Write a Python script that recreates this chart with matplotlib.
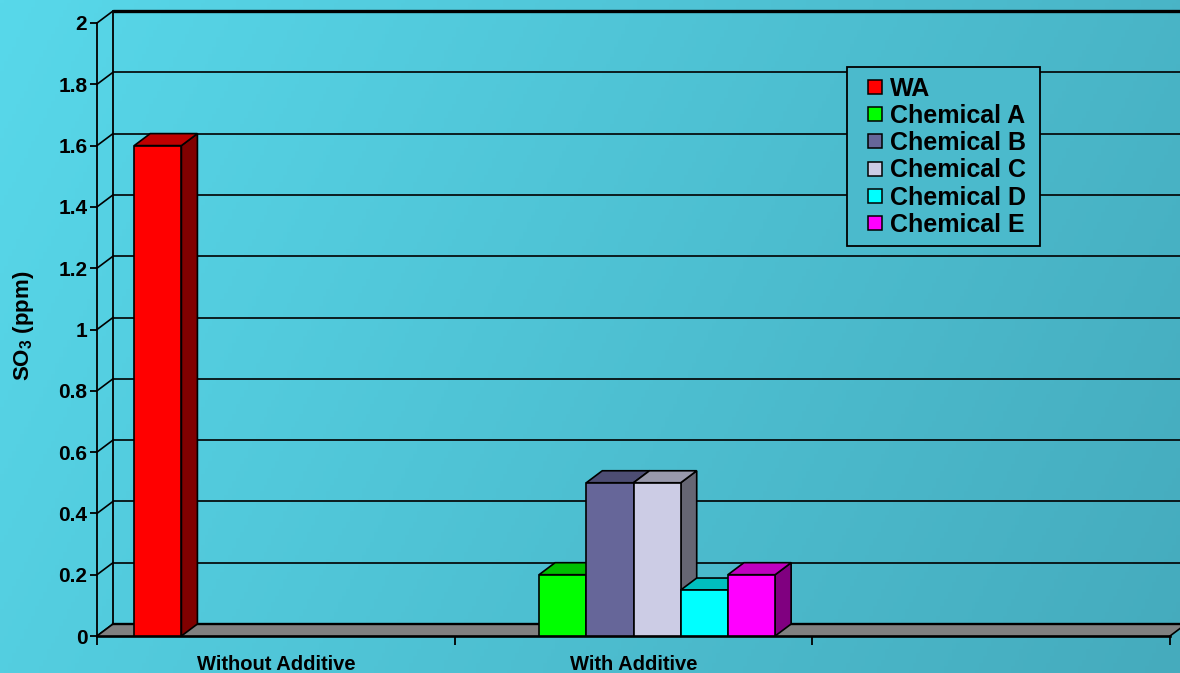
import numpy as np
import matplotlib
matplotlib.use("Agg")
import matplotlib.pyplot as plt
from matplotlib.patches import Polygon
from matplotlib.lines import Line2D
from matplotlib.colors import to_rgb

plt.rcParams['font.family'] = ['Liberation Sans', 'DejaVu Sans']
plt.rcParams['font.weight'] = 'bold'
plt.rcParams['mathtext.fontset'] = 'custom'
plt.rcParams['mathtext.rm'] = 'Liberation Sans:bold'
plt.rcParams['mathtext.default'] = 'rm'

nan = np.nan
categories = ['Without Additive', 'With Additive', '']
series_names = ['WA', 'Chemical A', 'Chemical B', 'Chemical C', 'Chemical D', 'Chemical E']
wa = [1.6, nan, nan]
chem_a = [nan, 0.2, nan]
chem_b = [nan, 0.5, nan]
chem_c = [nan, 0.5, nan]
chem_d = [nan, 0.15, nan]
chem_e = [nan, 0.2, nan]
series_values = [wa, chem_a, chem_b, chem_c, chem_d, chem_e]
colors = ['#FF0000', '#00FF00', '#666699', '#CCCCE5', '#00FFFF', '#FF00FF']
ytick_values = [0, 0.2, 0.4, 0.6, 0.8, 1.0, 1.2, 1.4, 1.6, 1.8, 2.0]
ytick_labels = ['0', '0.2', '0.4', '0.6', '0.8', '1', '1.2', '1.4', '1.6', '1.8', '2']
ylabel = 'SO$_3$ (ppm)'

W, H = 1180, 673
fig = plt.figure(figsize=(W / 100, H / 100), dpi=100)

# background gradient
TL = np.array([0x58, 0xD8, 0xEA]) / 255
BR = np.array([0x45, 0xAB, 0xBD]) / 255
def bg_color(xf, yf_top):
    s = np.clip(0.78 * np.asarray(xf) + 0.22 * np.asarray(yf_top), 0, 1)
    return TL + (BR - TL) * np.asarray(s)[..., None]
xs = np.linspace(0, 1, 300)
ys = np.linspace(0, 1, 200)
XX, YY = np.meshgrid(xs, ys)
img = bg_color(XX, YY)
bg = fig.add_axes([0, 0, 1, 1], zorder=-10)
bg.imshow(img, extent=[0, 1, 0, 1], aspect='auto', origin='upper')
bg.axis('off')

ax = fig.add_axes([97 / W, (H - 636) / H, 1073 / W, 613 / H])
ax.set_xlim(0, 3)
ax.set_ylim(0, 2)
ax.patch.set_visible(False)
for s in ['top', 'right', 'bottom']:
    ax.spines[s].set_visible(False)
ax.spines['left'].set_linewidth(1.3)
ax.spines['left'].set_zorder(5)

xpu = 1073 / 3
ypu = 613 / 2
dx = 16 / xpu
dy = 12 / ypu
ncat = len(categories)

# back wall and side wall
ax.plot([dx, dx], [dy, 2 + dy], color='k', lw=1.3, clip_on=False, zorder=0.5)
for v in ytick_values:
    ax.plot([0, dx], [v, v + dy], color='k', lw=1.2, clip_on=False, zorder=0.5)
    if v > 0:
        lw = 2.4 if v == ytick_values[-1] else 1.2
        ax.plot([dx, ncat + dx + 0.1], [v + dy, v + dy], color='k', lw=lw,
                clip_on=False, zorder=0.5, solid_capstyle='butt')

# floor
ax.add_patch(Polygon([(0, 0), (ncat, 0), (ncat + dx, dy), (dx, dy)], closed=True,
                     fc='#808080', ec='none', clip_on=False, zorder=1))
ax.plot([0, ncat], [0, 0], color='k', lw=1.9, clip_on=False, zorder=1.5)
ax.plot([dx, ncat + dx + 0.1], [dy, dy], color='k', lw=1.7, clip_on=False, zorder=1.5)
ax.plot([0, dx], [0, dy], color='k', lw=1.2, clip_on=False, zorder=1.5)
ax.plot([ncat, ncat + dx], [0, dy], color='k', lw=1.2, clip_on=False, zorder=1.5)

# bars
nser = len(series_names)
group = 0.792
bw = group / nser
gap = (1 - group) / 2

def shade(c, f):
    return tuple(np.array(to_rgb(c)) * f)

for j, (vals, col) in enumerate(zip(series_values, colors)):
    xpos = np.arange(ncat) + gap + j * bw
    bars = ax.bar(xpos, vals, width=bw, align='edge', color=col, edgecolor='k',
                  linewidth=1.2)
    for x0, v, patch in zip(xpos, vals, bars.patches):
        if np.isnan(v):
            continue
        z = 2 + x0
        patch.set_zorder(z + 0.002)
        ax.add_patch(Polygon([(x0 + bw, 0), (x0 + bw + dx, dy), (x0 + bw + dx, v + dy), (x0 + bw, v)],
                             closed=True, fc=shade(col, 0.5), ec='k', lw=1.2, zorder=z))
        ax.add_patch(Polygon([(x0, v), (x0 + bw, v), (x0 + bw + dx, v + dy), (x0 + dx, v + dy)],
                             closed=True, fc=shade(col, 0.75), ec='k', lw=1.2, zorder=z + 0.001))

# ticks
ax.set_yticks(ytick_values, ytick_labels)
ax.tick_params(axis='y', length=5, width=1.3, pad=2, labelsize=15, colors='k')
ax.set_xticks(np.arange(ncat + 1), [''] * (ncat + 1))
ax.tick_params(axis='x', which='major', length=6.5, width=1.3)
ax.set_xticks(np.arange(ncat) + 0.5, categories, minor=True)
ax.tick_params(axis='x', which='minor', length=0, pad=14, labelsize=14.5)
for t in ax.get_xticklabels(minor=True) + ax.get_yticklabels():
    t.set_fontweight('bold')

fig.text(24 / W, 1 - 326 / H, ylabel, rotation=90, ha='center', va='center',
         fontsize=16, fontweight='bold')

# legend
handles = [Line2D([], [], ls='none', marker='s', ms=9.6, mfc=c, mec='k', mew=1.1) for c in colors]
lbg = tuple(float(c) for c in bg_color(940 / W, 155 / H))
leg = fig.legend(handles, series_names, loc='upper left',
                 bbox_to_anchor=(847 / W, 1 - 243 / H, 193 / W, 176 / H),
                 mode='expand', borderaxespad=0,
                 frameon=True, fancybox=False, edgecolor='k', facecolor=lbg,
                 framealpha=1, prop={'size': 18, 'weight': 'bold'},
                 handlelength=1.45, handletextpad=-0.12, labelspacing=0.13,
                 borderpad=0.38)
leg.get_frame().set_linewidth(1.3)
leg.set_zorder(20)

fig.savefig('out.png', dpi=100)
